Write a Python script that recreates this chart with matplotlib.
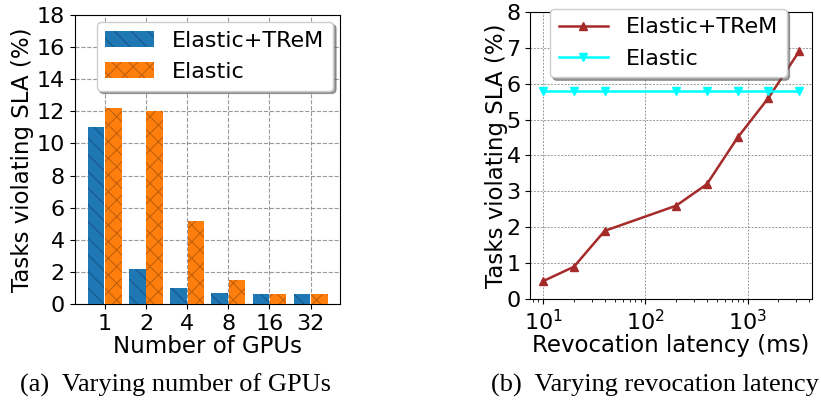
import matplotlib.pyplot as plt
import numpy as np

# left panel: SLA violations vs number of GPUs
gpu_labels = ['1', '2', '4', '8', '16', '32']
trem_gpu = [11.0, 2.2, 1.0, 0.7, 0.6, 0.6]
elastic_gpu = [12.2, 12.0, 5.2, 1.5, 0.6, 0.6]

# right panel: SLA violations vs revocation latency
latency_ms = [10, 20, 40, 200, 400, 800, 1600, 3200]
trem_lat = [0.5, 0.9, 1.9, 2.6, 3.2, 4.5, 5.6, 6.9]
elastic_lat = [5.8, 5.8, 5.8, 5.8, 5.8, 5.8, 5.8, 5.8]

plt.rcParams['font.size'] = 16
plt.rcParams['hatch.linewidth'] = 0.8

fig = plt.figure(figsize=(8.21, 4.08), dpi=100)
ax1 = fig.add_axes([0.091, 0.255, 0.323, 0.708])
ax2 = fig.add_axes([0.646, 0.267, 0.343, 0.704])

# ---- (a)
x = np.arange(len(gpu_labels))
w = 0.4
ax1.bar(x - 0.21, trem_gpu, w, color='#1f77b4', edgecolor='#17598a',
        linewidth=0, hatch='\\\\', label='Elastic+TReM', zorder=3)
ax1.bar(x + 0.21, elastic_gpu, w, color='#ff7f0e', edgecolor='#c0600a',
        linewidth=0, hatch='xx', label='Elastic', zorder=3)
ax1.set_xticks(x)
ax1.set_xticklabels(gpu_labels)
ax1.set_xlim(-0.73, 5.71)
ax1.set_ylim(0, 18)
ax1.set_yticks(range(0, 19, 2))
ax1.grid(True, linestyle='--', color='gray', alpha=0.8, linewidth=0.8)
ax1.set_axisbelow(True)
ax1.set_xlabel('Number of GPUs', labelpad=1, fontsize=16.5)
ax1.set_ylabel('Tasks violating SLA (%)', fontsize=16.5, labelpad=2)
ax1.legend(loc='upper right', shadow=True, handlelength=2.2,
           borderaxespad=0.3, framealpha=1)

# ---- (b)
ax2.plot(latency_ms, trem_lat, '-^', color='#a52a2a', linewidth=1.8,
         markersize=6, label='Elastic+TReM')
ax2.plot(latency_ms, elastic_lat, '-v', color='cyan', linewidth=1.8,
         markersize=6, label='Elastic')
ax2.set_xscale('log')
ax2.set_ylim(0, 8)
ax2.set_yticks(range(0, 9))
ax2.grid(True, which='major', linestyle=(0, (2, 1.5)), color='#999999',
         linewidth=0.7)
ax2.set_xlabel('Revocation latency (ms)', labelpad=0, fontsize=16.5)
ax2.set_ylabel('Tasks violating SLA (%)', fontsize=16.5, labelpad=-1)
ax2.legend(loc='upper center', bbox_to_anchor=(0.49, 1.05), shadow=True,
           handlelength=2.2, framealpha=1)

fig.text(0.214, 0.04, '(a)  Varying number of GPUs', ha='center',
         family='Liberation Serif', fontsize=19)
fig.text(0.798, 0.04, '(b)  Varying revocation latency', ha='center',
         family='Liberation Serif', fontsize=19)

fig.savefig('out.png', dpi=100)
